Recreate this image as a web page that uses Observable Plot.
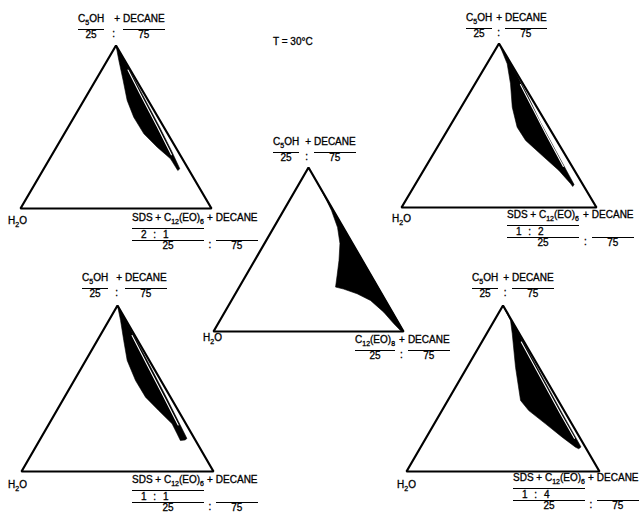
<!DOCTYPE html>
<html><head><meta charset="utf-8">
<script src="https://cdn.jsdelivr.net/npm/d3@7"></script>
<script src="https://cdn.jsdelivr.net/npm/@observablehq/plot@0.6"></script>
<style>
html,body{margin:0;padding:0;background:#fff}
#fig{position:relative;width:640px;height:512px;overflow:hidden;background:#fff;font-family:"Liberation Sans",Arial,sans-serif;color:#000}
.panel{position:absolute}
.lab{position:absolute;display:grid;grid-template-columns:auto auto auto;font-size:10px;line-height:12px;white-space:nowrap;-webkit-text-stroke:0.3px #000}
.lab sub,.single sub{font-size:7px;line-height:0;vertical-align:-2.5px}
.lab .b{border-top:1.3px solid #000;text-align:center}
.lab .r1{padding-bottom:4px}
.lab .r2{padding-bottom:0.5px;line-height:11px}
.lab .r3{line-height:10.5px}
.lab .pl{text-align:center;padding-right:3px}
.lab .col{text-align:center}
.lab .ratio{text-align:left;padding-left:9px;word-spacing:4px}
.single{position:absolute;font-size:10px;line-height:12px;white-space:nowrap;-webkit-text-stroke:0.3px #000}
</style></head>
<body><div id="fig"></div>
<script>
// Ternary compositions [a, c]:
// a = fraction of (C5OH + decane) (top corner), c = fraction of (surfactant + decane) (right corner),
// water = 1 - a - c (left corner). One-phase regions.
const region1 = [[1,0],[0.908,0.061],[0.785,0.145],[0.663,0.227],[0.560,0.313],[0.458,0.417],[0.376,0.528],[0.305,0.633],[0.233,0.707],[0.244,0.712],[0.35,0.617],[0.5,0.478],[0.7,0.288],[0.88,0.116]];
const slit1   = [[0.85,0.138],[0.7,0.278],[0.5,0.467],[0.33,0.625]];
const region2 = [[1,0],[0.876,0.104],[0.754,0.182],[0.612,0.262],[0.490,0.348],[0.409,0.432],[0.317,0.563],[0.226,0.694],[0.145,0.795],[0.128,0.814],[0.140,0.815],[0.348,0.616],[0.518,0.454],[0.683,0.305],[0.823,0.173]];
const slit2   = [[0.75,0.235],[0.6,0.375],[0.45,0.515],[0.25,0.705]];
const region3 = [[0.9,0.1],[0.8,0.195],[0.738,0.252],[0.634,0.336],[0.537,0.397],[0.433,0.444],[0.341,0.480],[0.271,0.507],[0.259,0.555],[0.230,0.641],[0.189,0.732],[0.118,0.837],[0.047,0.926],[0.006,0.981],[0,1]];
const region4 = [[1,0],[0.910,0.061],[0.789,0.138],[0.669,0.216],[0.548,0.320],[0.448,0.422],[0.367,0.531],[0.287,0.641],[0.227,0.697],[0.187,0.734],[0.19,0.757],[0.199,0.762],[0.3,0.668],[0.45,0.528],[0.65,0.338],[0.85,0.146]];
const slit4   = [[0.82,0.166],[0.65,0.326],[0.45,0.516],[0.28,0.676]];
const region5 = [[1,0],[0.910,0.084],[0.830,0.133],[0.628,0.251],[0.428,0.377],[0.367,0.450],[0.287,0.577],[0.207,0.703],[0.146,0.803],[0.137,0.824],[0.148,0.830],[0.35,0.632],[0.55,0.438],[0.75,0.244],[0.9,0.098]];
const slit5   = [[0.78,0.205],[0.55,0.428],[0.35,0.622],[0.2,0.77]];

// Corners of the composition triangle: water, surfactant+decane, C5OH+decane
const corners = [[0,0],[0,1],[1,0]];

// Text
const temperature = "T = 30°C";
const mixRatio = ["25", "75"];           // C5OH : decane and surfactant : decane
const surfRatios = ["2 : 1", "1 : 2", "1 : 1", "1 : 4"]; // SDS : C12(EO)6
const waterLabel = "H<sub>2</sub>O";
const alcoholLabel = "C<sub>5</sub>OH";
const mixedSurf = "SDS + C<sub>12</sub>(EO)<sub>6</sub>";
const nonionicSurf = "C<sub>12</sub>(EO)<sub>8</sub>";
const oilLabel = "DECANE";

// Layout of the five panels (pixel placement of each triangle and its labels)
const layout = [
  {x0:20,  y0:208, s:191, h:163, top:[78,15,10],  bot:[132,214,3], w:[8,217],   region:region1, slit:slit1, ratio:surfRatios[0]},
  {x0:401, y0:207, s:195, h:164, top:[466,14,4],  bot:[507,211,4], w:[392,215], region:region2, slit:slit2, ratio:surfRatios[1]},
  {x0:213, y0:331, s:190, h:164, top:[273,138,6], bot:[355,336,4], w:[203,334], region:region3, slit:null,  ratio:null},
  {x0:21,  y0:471, s:192, h:166, top:[82,274,8],  bot:[132,476,3], w:[8,481],   region:region4, slit:slit4, ratio:surfRatios[2]},
  {x0:406, y0:471, s:193, h:166, top:[472,274,5], bot:[513,474,3], w:[397,481], region:region5, slit:slit5, ratio:surfRatios[3]}
];

const fig = document.getElementById("fig");
const toXY = ([a, c]) => ({x: c + a / 2, y: a});
const CAP = 2.3;

function fraction([left, capTop, gap], name1, name3, extraRow) {
  let html = `<div class="lab" style="left:${left}px;top:${capTop - CAP}px">`;
  html += `<span class="r1">${name1}</span><span class="r1 pl" style="padding-left:${gap}px">+</span><span class="r1">${name3}</span>`;
  if (extraRow) html += `<span class="b ratio r2">${extraRow}</span><span></span><span></span>`;
  html += `<span class="b r3">${mixRatio[0]}</span><span class="col r3">:</span><span class="b r3">${mixRatio[1]}</span></div>`;
  return html;
}

let labels = `<div class="single" style="left:273px;top:${38 - CAP}px">${temperature}</div>`;

layout.forEach((L, i) => {
  const pad = 4;
  const svg = Plot.plot({
    width: L.s + 2 * pad, height: L.h + 2 * pad,
    marginTop: pad, marginBottom: pad, marginLeft: pad, marginRight: pad,
    x: {domain: [0, 1], axis: null},
    y: {domain: [0, 1], axis: null},
    style: {background: "transparent", overflow: "visible"},
    marks: [
      Plot.line(L.region.map(toXY), {x: "x", y: "y", curve: "linear-closed", fill: "#000", stroke: "#000", strokeWidth: 0.6}),
      L.slit ? Plot.line(L.slit.map(toXY), {x: "x", y: "y", stroke: "#fff", strokeWidth: 1.1}) : null,
      Plot.line(corners.map(toXY), {x: "x", y: "y", curve: "linear-closed", stroke: "#000", strokeWidth: 2.2, strokeLinejoin: "miter"})
    ]
  });
  svg.classList.add("panel");
  svg.style.position = "absolute";
  svg.style.left = (L.x0 - pad) + "px";
  svg.style.top = (L.y0 - L.h - pad) + "px";
  fig.appendChild(svg);

  labels += fraction(L.top, alcoholLabel, oilLabel, null);
  labels += fraction(L.bot, i === 2 ? nonionicSurf : mixedSurf, oilLabel, L.ratio);
  labels += `<div class="single" style="left:${L.w[0]}px;top:${L.w[1] - CAP}px">${waterLabel}</div>`;
});

fig.insertAdjacentHTML("beforeend", labels);
</script>
</body></html>
